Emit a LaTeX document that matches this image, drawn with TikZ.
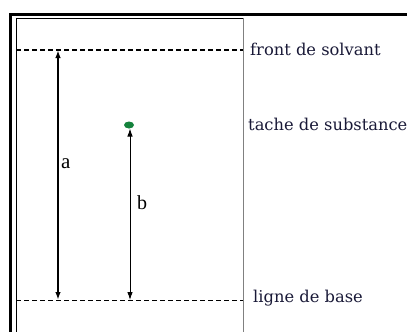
\documentclass[tikz,border=0pt]{standalone}
\usepackage{fontspec}
\setmainfont{Liberation Serif}
\newfontfamily\lblfont{DejaVu Serif}
\usetikzlibrary{arrows.meta,shapes.geometric}
\definecolor{txt}{RGB}{25,25,55}
\definecolor{spot}{RGB}{20,130,60}
\tikzset{
  lbl/.style={anchor=base west, inner sep=0pt, text=txt, font=\lblfont\fontsize{16.3}{18}\selectfont},
  dim/.style={{Latex[length=8pt,width=5.5pt]}-{Latex[length=8pt,width=5.5pt]}},
}
\begin{document}
\begin{tikzpicture}[x=1pt,y=-1pt]
\useasboundingbox (0,0) rectangle (407,332);
% outer frame
\draw[line width=3pt] (10,340) -- (10,14.5) -- (420,14.5);
% inner plate
\draw[line width=0.8pt] (16,340) -- (16,18) -- (243,18);
\draw[line width=0.8pt, gray] (243,18) -- (243,340);
% front and base lines
\coordinate (fl) at (16,50);
\coordinate (fr) at (243,50);
\coordinate (bl) at (16,300);
\coordinate (br) at (243,300);
\draw[line width=1.3pt, dash pattern=on 5pt off 3pt] (fl) -- (fr);
\draw[line width=0.8pt, dash pattern=on 5pt off 3pt] (bl) -- (br);
% spot
\node[ellipse, fill=spot, minimum width=10pt, minimum height=7pt, inner sep=0pt] (spot) at (129,125) {};
% arrows
\coordinate (atop) at (58,50);
\coordinate (abot) at (58,300);
\coordinate (btop) at (130,128.5);
\coordinate (bbot) at (130,300);
\draw[dim, line width=2pt] (atop) -- (abot);
\draw[dim, line width=0.9pt] (btop) -- (bbot);
\node[anchor=base west, inner sep=0pt, font=\fontsize{21}{23}\selectfont] (a) at (61,168) {a};
\node[anchor=base west, inner sep=0pt, font=\fontsize{20}{22}\selectfont] (b) at (137,209) {b};
% labels
\node[lbl] (front) at (250,55) {front de solvant};
\node[lbl] (tache) at (248,130) {tache de substance};
\node[lbl] (base) at (253,302) {ligne de base};
\end{tikzpicture}
\end{document}
